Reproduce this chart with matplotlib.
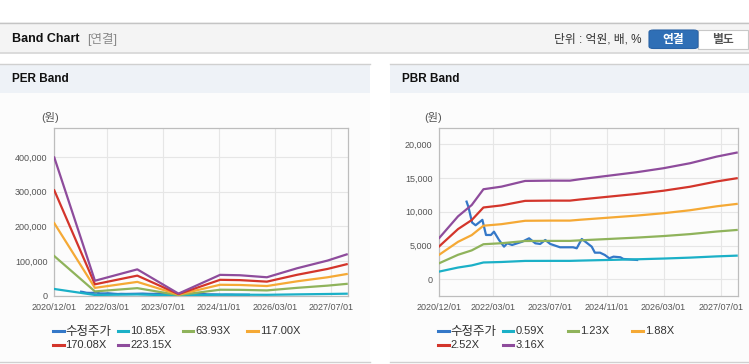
import matplotlib
matplotlib.use('Agg')
import matplotlib.pyplot as plt
import matplotlib.dates as mdates
from matplotlib.patches import Rectangle, FancyBboxPatch
from matplotlib.lines import Line2D
import numpy as np
import pandas as pd

plt.rcParams['font.family'] = ['Liberation Sans', 'Noto Sans CJK KR']

# ---- data ----
price_dates = ['2021-07-22', '2021-08-07', '2021-09-07', '2021-10-07', '2021-12-04',
               '2022-01-04', '2022-02-15', '2022-03-13', '2022-04-25', '2022-06-07',
               '2022-07-04', '2022-08-15', '2022-11-10', '2023-01-07', '2023-03-01',
               '2023-04-12', '2023-05-25', '2023-07-07', '2023-09-28', '2024-01-18',
               '2024-02-18', '2024-04-01', '2024-05-01', '2024-06-25', '2024-07-22',
               '2024-09-04', '2024-10-15', '2024-11-22', '2024-12-28', '2025-02-25',
               '2025-03-22', '2025-07-18']
price = [11500, 10700, 8400, 8000, 8800,
         6560, 6560, 7050, 5820, 4830,
         5330, 5080, 5570, 6070, 5330,
         5230, 5820, 5230, 4740, 4740,
         4590, 5970, 5570, 4830, 3940,
         3940, 3600, 3110, 3350, 3260,
         3010, 2860]

eps_dates = ['2020-12-01', '2021-11-19', '2022-11-22', '2023-11-15', '2024-11-10',
             '2025-05-01', '2025-12-22', '2026-09-10', '2027-06-01', '2027-11-15']
eps = [1784, 193, 340, 27, 269, 264, 238, 354, 453, 533]
per_multiples = [10.85, 63.93, 117.00, 170.08, 223.15]

bps_dates = ['2020-12-01', '2021-05-10', '2021-09-04', '2021-12-13', '2022-05-16',
             '2022-12-04', '2023-07-01', '2023-12-22', '2024-03-16', '2024-11-01',
             '2025-07-13', '2026-02-28', '2026-10-13', '2027-05-28', '2027-11-15']
bps = [1940, 2950, 3480, 4219, 4341, 4608, 4622, 4622, 4688, 4843,
       5016, 5204, 5438, 5748, 5935]
pbr_multiples = [0.59, 1.23, 1.88, 2.52, 3.16]

x_ticks = ['2020-12-01', '2022-03-01', '2023-07-01', '2024-11-01', '2026-03-01', '2027-07-01']
x_range = ['2020-12-01', '2027-11-24']

price_label = '수정주가'
colors = ['#3478c8', '#1bb0c7', '#8fb35b', '#f5a935', '#d3352b', '#8e4c9c']

W, H = 749, 364


def fx(px):
    return px / W


def fy(py):
    return 1 - py / H


def frect(fig, x0, y0, x1, y1, **kw):
    fig.patches.append(Rectangle((fx(x0), fy(y1)), fx(x1) - fx(x0), fy(y0) - fy(y1),
                                 transform=fig.transFigure, figure=fig, zorder=-5, **kw))


def fline(fig, x0, x1, y, color, lw=1, z=-4):
    fig.lines.append(Line2D([fx(x0), fx(x1)], [fy(y), fy(y)], transform=fig.transFigure,
                            color=color, lw=lw, figure=fig, zorder=z))


fig = plt.figure(figsize=(W / 100, H / 100), dpi=100)
fig.patch.set_facecolor('white')

# ---- top header bar ----
frect(fig, 0, 22, W, 53, facecolor='#f4f4f4', edgecolor='none')
fline(fig, 0, W, 22.5, '#c4c4c4', 1)
fline(fig, 0, W, 53, '#d6d6d6', 1.2)
fig.text(fx(12), fy(39), 'Band Chart', fontsize=9, fontweight='bold', color='#111', va='center')
fig.text(fx(87), fy(39), '[연결]', fontsize=9, color='#8a8a8a', va='center')
fig.text(fx(642), fy(39), '단위 : 억원, 배, %', fontsize=8.5, color='#333', va='center', ha='right')
fig.patches.append(FancyBboxPatch((fx(649), fy(48.5)), fx(49), fy(30) - fy(48.5),
                                  boxstyle='round,pad=0,rounding_size=0.006',
                                  transform=fig.transFigure, figure=fig,
                                  facecolor='#2f6fb6', edgecolor='#2a63a6', lw=0.8))
frect(fig, 698, 30, 748, 48.5, facecolor='white', edgecolor='#c8c8c8', lw=0.8)
fig.text(fx(673.5), fy(39.5), '연결', fontsize=8.5, fontweight='bold', color='white',
         ha='center', va='center')
fig.text(fx(723), fy(39.5), '별도', fontsize=8.5, fontweight='bold', color='#555',
         ha='center', va='center')

# ---- panels ----
panels = [(0, 370, 'PER Band'), (390, W, 'PBR Band')]
for x0, x1, title in panels:
    frect(fig, x0, 64, x1, 362, facecolor='#fcfcfc', edgecolor='none')
    frect(fig, x0, 64, x1, 93, facecolor='#eef2f7', edgecolor='none')
    fline(fig, x0, x1, 64, '#d0d0d0', 1)
    fline(fig, x0, x1, 362, '#d0d0d0', 1)
    fig.text(fx(x0 + 12), fy(79), title, fontsize=8.5, fontweight='bold', color='#111',
             va='center')

pdates = pd.to_datetime(price_dates)
edates = pd.to_datetime(eps_dates)
bdates = pd.to_datetime(bps_dates)
ticks = pd.to_datetime(x_ticks)
xr = pd.to_datetime(x_range)

charts = [
    dict(left=54.3, right=347.7, base=edates, vals=np.array(eps, float),
         mults=per_multiples, ylim=(0, 483000), yticks=np.arange(0, 400001, 100000),
         unit_x=50),
    dict(left=439.3, right=737.7, base=bdates, vals=np.array(bps, float),
         mults=pbr_multiples, ylim=(-2430, 22400), yticks=np.arange(0, 20001, 5000),
         unit_x=433),
]

top, bottom = 128, 295.7
for c in charts:
    ax = fig.add_axes([fx(c['left']), fy(bottom), fx(c['right']) - fx(c['left']),
                       fy(top) - fy(bottom)])
    ax.set_zorder(5)
    ax.set_facecolor('none')
    ax.plot(pdates, price, color=colors[0], lw=1.6, zorder=2)
    for i, m in enumerate(c['mults']):
        ax.plot(c['base'], c['vals'] * m, color=colors[i + 1], lw=1.6, zorder=3)
    ax.set_xlim(xr[0], xr[1])
    ax.set_ylim(*c['ylim'])
    ax.set_xticks(ticks)
    ax.xaxis.set_major_formatter(mdates.DateFormatter('%Y/%m/%d'))
    ax.set_yticks(c['yticks'])
    ax.set_yticklabels([f'{v:,}' for v in c['yticks']])
    ax.tick_params(length=0, labelsize=6.5, labelcolor='#555')
    ax.tick_params(axis='x', pad=5)
    ax.tick_params(axis='y', pad=5)
    ax.grid(True, color='#e6e6e6', lw=0.8, zorder=0)
    ax.set_axisbelow(True)
    for s in ax.spines.values():
        s.set_color('#bdbdbd')
        s.set_linewidth(0.9)
    fig.text(fx(c['unit_x']), fy(118), '(원)', fontsize=8, color='#555',
             ha='center', va='center')

    # legend drawn below each chart
    labels = [price_label] + [f'{m:.2f}X' for m in c['mults']]
    lx0 = c['left'] - 1.3
    for i, lab in enumerate(labels):
        col, row = i % 4, i // 4
        hx = lx0 + col * 64.8
        hy = 331 + row * 13.5
        fline(fig, hx, hx + 10.5, hy, colors[i], 2.2, z=2)
        fs = 9 if lab == price_label else 8
        fig.text(fx(hx + 12.5), fy(hy + 0.5), lab, fontsize=fs, color='#333', va='center')

fig.savefig('out.png', dpi=100)
